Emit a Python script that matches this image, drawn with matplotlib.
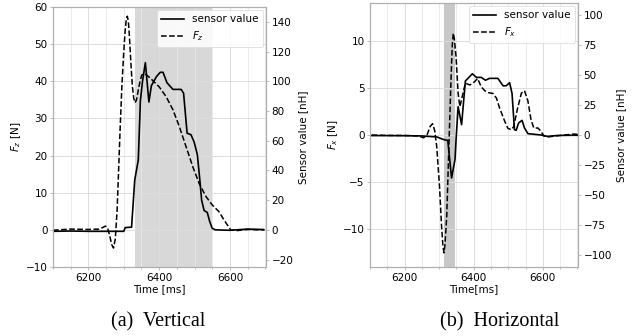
import matplotlib
matplotlib.use("Agg")
import matplotlib.pyplot as plt
from matplotlib.ticker import MultipleLocator

# (a) vertical: time [ms], F_z [N], sensor value [nH]
t_fz = [6100, 6150, 6200, 6230, 6240, 6248, 6254, 6260, 6266, 6271, 6276, 6281,
        6285, 6290, 6295, 6300, 6304, 6307, 6310, 6313, 6316, 6320, 6324, 6328,
        6332, 6336, 6341, 6346, 6351, 6360, 6373, 6400, 6420, 6439, 6457, 6476,
        6495, 6513, 6532, 6550, 6569, 6583, 6602, 6620, 6650, 6680, 6698]
fz = [-0.1, 0.2, 0.1, 0.2, 0.6, 1.0, 0.6, -1.5, -4.0, -4.9, -2.5, 5.0,
      15.0, 28.0, 39.4, 48.0, 53.8, 56.5, 57.5, 56.0, 52.0, 45.0, 39.0, 35.5,
      34.2, 35.0, 37.6, 40.0, 41.7, 42.0, 41.0, 38.5, 35.8, 32.3, 27.8, 22.4,
      17.0, 12.5, 9.0, 6.7, 4.9, 2.7, 0.0, -0.2, 0.1, 0.0, 0.0]
t_sa = [6100, 6150, 6200, 6250, 6300, 6304, 6322, 6331, 6341, 6347, 6353, 6361,
        6371, 6378, 6392, 6403, 6411, 6422, 6439, 6462, 6469, 6479, 6490, 6499,
        6508, 6515, 6520, 6527, 6536, 6543, 6550, 6559, 6600, 6650, 6680, 6695]
sa = [-1.0, -0.8, -1.0, -1.0, -1.0, 1.5, 1.8, 33.5, 47.0, 87.0, 100.0, 112.5,
      86.0, 97.0, 103.0, 106.0, 106.0, 99.0, 94.5, 94.5, 92.0, 65.0, 64.0, 59.0,
      50.5, 33.5, 20.0, 13.0, 11.7, 5.5, 1.0, 0.0, -0.3, 0.5, 0.3, 0.2]
span_a = (6332, 6550)

# (b) horizontal: time [ms], F_x [N], sensor value [nH]
t_fx = [6105, 6150, 6200, 6240, 6255, 6265, 6274, 6281, 6287, 6293, 6301, 6307,
        6311, 6314, 6317, 6322, 6328, 6334, 6338, 6341, 6344, 6349, 6355, 6360,
        6367, 6376, 6389, 6403, 6411, 6422, 6432, 6442, 6456, 6466, 6475, 6490,
        6499, 6509, 6516, 6526, 6538, 6547, 6557, 6566, 6574, 6586, 6595, 6603,
        6615, 6650, 6690, 6705]
fx = [0.0, -0.05, -0.05, -0.1, -0.3, 0.0, 0.9, 1.2, 0.5, -1.2, -5.4, -9.65,
      -11.8, -12.5, -11.6, -8.6, -1.55, 5.5, 9.5, 10.8, 10.2, 8.3, 4.4, 3.0,
      4.1, 5.5, 5.3, 5.66, 6.0, 5.1, 4.7, 4.5, 4.4, 3.9, 2.85, 1.44,
      0.7, 0.56, 0.9, 2.67, 4.43, 4.7, 3.6, 1.6, 0.74, 0.74, 0.38, -0.1,
      -0.2, -0.05, 0.1, 0.05]
t_sb = [6105, 6150, 6200, 6250, 6293, 6314, 6325, 6336, 6346, 6349, 6355, 6365,
        6376, 6396, 6408, 6422, 6434, 6446, 6470, 6485, 6494, 6504, 6511, 6518,
        6523, 6530, 6540, 6547, 6557, 6595, 6614, 6643, 6691, 6705]
sb = [-0.5, -0.5, -0.6, -0.8, -1.6, -3.9, -4.5, -35.8, -20.4, -3.9, 23.6, 8.6,
      45.0, 51.0, 48.0, 48.0, 45.6, 47.2, 47.2, 41.0, 41.0, 43.6, 34.6, 4.4,
      3.9, 10.0, 12.2, 5.8, 1.1, 0.0, -1.2, -0.4, -0.2, -0.3]
span_b = (6315, 6346)

plt.rcParams["font.family"] = "DejaVu Sans"
plt.rcParams["font.size"] = 7.5

fig = plt.figure(figsize=(6.35, 3.36), dpi=100)


def panel(rect, t_f, f, t_s, s, span, span_col, flabel, xlabel, ylim_f, ylim_s, ystep_f, ystep_s):
    ax = fig.add_axes(rect)
    ax2 = ax.twinx()
    ax.axvspan(span[0], span[1], color=span_col, lw=0, zorder=0)
    l2, = ax.plot(t_f, f, "k--", lw=1.1, label=flabel)
    l1, = ax2.plot(t_s, s, "k-", lw=1.2, label="sensor value")
    ax.set_xlim(6100, 6702)
    ax.set_ylim(*ylim_f)
    ax2.set_ylim(*ylim_s)
    ax.xaxis.set_major_locator(MultipleLocator(200))
    ax.xaxis.set_minor_locator(MultipleLocator(50))
    ax.yaxis.set_major_locator(MultipleLocator(ystep_f))
    ax2.yaxis.set_major_locator(MultipleLocator(ystep_s))
    ax.grid(which="major", color="#dddddd", lw=0.7)
    ax.grid(which="minor", axis="x", color="#e8e8e8", lw=0.6)
    ax.set_axisbelow(True)
    for a in (ax, ax2):
        for sp in a.spines.values():
            sp.set_color("#b0b0b0")
            sp.set_linewidth(0.8)
        a.tick_params(which="both", color="#b0b0b0", length=2.5, width=0.6, pad=1.5)
    ax.tick_params(which="minor", length=1.5)
    ax.set_xlabel(xlabel, labelpad=1)
    ax.set_ylabel(flabel + " [N]", labelpad=2)
    ax2.set_ylabel("Sensor value [nH]", labelpad=3)
    leg = ax2.legend(handles=[l1, l2], loc="upper right", fontsize=7.5,
                     borderaxespad=0.3, handlelength=2.2, framealpha=0.85,
                     edgecolor="#dddddd", fancybox=True)
    leg.get_frame().set_linewidth(0.7)
    return ax, ax2


panel([0.0835, 0.2054, 0.3354, 0.774], t_fz, fz, t_sa, sa, span_a, "#d8d8d8",
      "$F_z$", "Time [ms]", (-10, 60), (-25, 150), 10, 20)
panel([0.5827, 0.2054, 0.3276, 0.7857], t_fx, fx, t_sb, sb, span_b, "#c8c8c8",
      "$F_x$", "Time[ms]", (-14, 14), (-110, 110), 5, 25)

fig.text(0.249, 0.042, "(a)  Vertical", family="Liberation Serif", fontsize=14.5,
         ha="center", va="center")
fig.text(0.787, 0.042, "(b)  Horizontal", family="Liberation Serif", fontsize=14.5,
         ha="center", va="center")

fig.savefig("out.png", dpi=100)
